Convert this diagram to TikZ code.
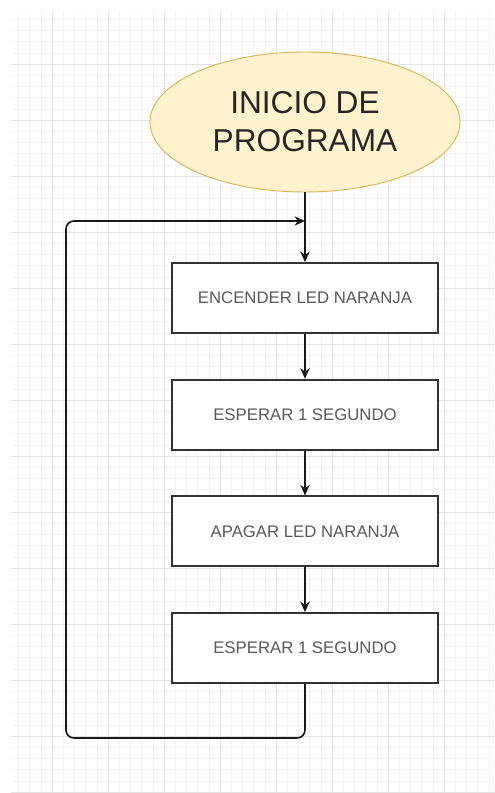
\documentclass[tikz,border=0pt]{standalone}
\usepackage{fontspec}
\setmainfont{Liberation Sans}
\usepackage{xcolor}
\usepackage{tikz}
\usetikzlibrary{shapes.geometric, arrows.meta}
\definecolor{rejilla}{HTML}{E3E3E3}
\definecolor{rejillafina}{HTML}{F3F3F3}
\definecolor{amarillo}{HTML}{FFF2CC}
\definecolor{borde}{HTML}{D6B656}
\tikzstyle{inicio} = [ellipse, minimum width=9.3cm, minimum height=4.2cm, inner sep=0pt, draw=borde, line width=0.8pt, fill=amarillo, text=black!85, align=center, font=\fontsize{27}{32.4}\selectfont]
\tikzstyle{paso} = [rectangle, minimum width=7.98cm, minimum height=2.1cm, draw=black!80, line width=1.5pt, fill=white, text=black!65, align=center, font=\fontsize{14.3}{17}\selectfont]
\tikzstyle{arrow} = [line width=1.4pt, black!90, ->, >={Stealth[length=9pt, width=8pt]}]

\begin{document}
\begin{tikzpicture}[node distance=3.5cm, auto]
		\useasboundingbox (0,0) rectangle (14.85,23.79);
		\fill[white] (0,0) rectangle (14.85,23.79);
		% rejilla de fondo
		\begin{scope}[shift={(1.56,21.87)}]
		\draw[rejillafina, line width=0.4pt, step=0.336] (-1.23,-21.87) grid (13.29,1.59);
		\draw[rejilla, line width=0.7pt, step=1.68] (-1.23,-21.87) grid (13.29,1.59);
		\end{scope}

	    \node (inicio) [inicio] at (9.15,20.13) {INICIO DE\\PROGRAMA};
		\node (paso1) [paso, below of=inicio, yshift=-1.78cm] {ENCENDER LED NARANJA};
		\node (paso2) [paso, below of=paso1] {ESPERAR 1 SEGUNDO};
		\node (paso3) [paso, below of=paso2] {APAGAR LED NARANJA};
		\node (paso4) [paso, below of=paso3] {ESPERAR 1 SEGUNDO};
		\coordinate (union) at (9.15,17.16);
		\coordinate (vuelta) at (1.98,1.65);

        \draw [arrow] (inicio) -- (paso1);
        \draw [arrow] (paso1) -- (paso2);
        \draw [arrow] (paso2) -- (paso3);
        \draw [arrow] (paso3) -- (paso4);
        \draw [arrow, rounded corners=0.24cm] (paso4.south) |- (vuelta) |- (union);
		\end{tikzpicture}
\end{document}
